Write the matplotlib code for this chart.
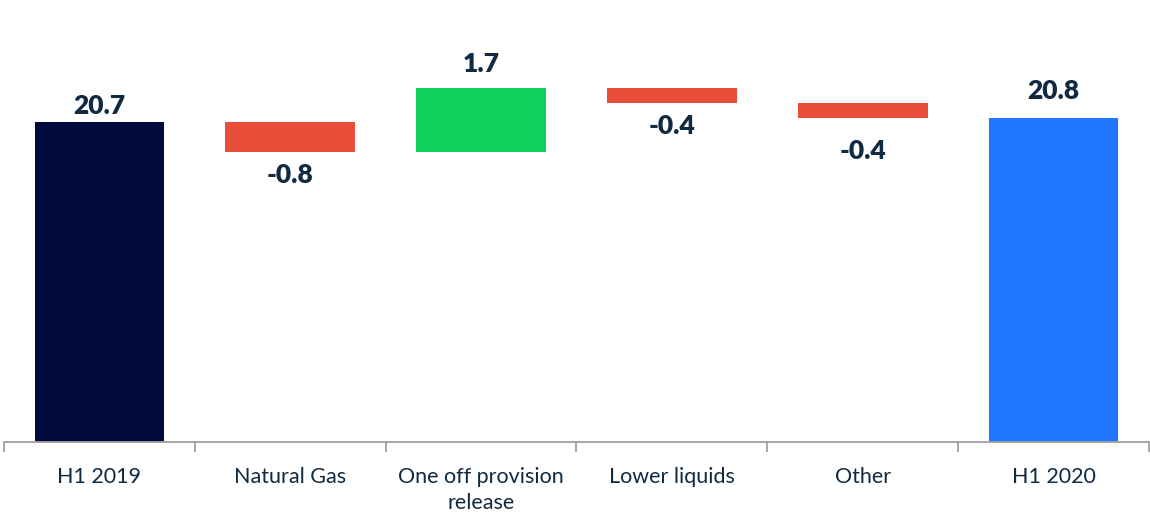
import matplotlib
matplotlib.use("Agg")
import matplotlib.pyplot as plt
import numpy as np

categories = ["H1 2019", "Natural Gas", "One off provision\nrelease", "Lower liquids", "Other", "H1 2020"]
start_value = 20.7
changes = [-0.8, 1.7, -0.4, -0.4]
end_value = 20.8
labels = ["20.7", "-0.8", "1.7", "-0.4", "-0.4", "20.8"]

c_start = "#000a3c"
c_neg = "#e84d3a"
c_pos = "#10cf5c"
c_end = "#1f78ff"
text_c = "#102a42"

# label distance from bar edge (points), as placed in the original
label_gap = [3, 8, 9, 8, 15, 11]

plt.rcParams['font.family'] = ['Lato', 'DejaVu Sans']

fig = plt.figure(figsize=(11.5, 5.14), dpi=100)
ax = fig.add_axes([4/1150, 1 - 442/514, 1145/1150, 442/514])

ymin = 12.12
x = np.arange(len(categories))
w = 0.68

bottoms, heights, colors = [], [], []
bottoms.append(ymin); heights.append(start_value - ymin); colors.append(c_start)
level = start_value
for ch in changes:
    new = level + ch
    bottoms.append(min(level, new)); heights.append(abs(ch))
    colors.append(c_pos if ch > 0 else c_neg)
    level = new
bottoms.append(ymin); heights.append(end_value - ymin); colors.append(c_end)

ax.bar(x, heights, bottom=bottoms, width=w, color=colors)

vals = [start_value] + changes + [end_value]
for i, (b, h, v, lab) in enumerate(zip(bottoms, heights, vals, labels)):
    if v >= 0:
        ax.annotate(lab, (x[i], b + h), xytext=(0, label_gap[i]), textcoords="offset points",
                    ha="center", va="bottom", fontsize=19, fontweight="heavy", color=text_c)
    else:
        ax.annotate(lab, (x[i], b), xytext=(0, -label_gap[i]), textcoords="offset points",
                    ha="center", va="top", fontsize=19, fontweight="heavy", color=text_c)

ax.set_xlim(-0.5, len(categories) - 0.5)
ax.set_ylim(ymin, 23.97)
for s in ["top", "right", "left"]:
    ax.spines[s].set_visible(False)
ax.spines["bottom"].set_color("#a0a0a0")
ax.spines["bottom"].set_linewidth(1.3)
ax.set_yticks([])
ax.set_xticks(x)
ax.set_xticklabels(categories, fontsize=15.5, color=text_c, linespacing=1.4)
ax.tick_params(axis="x", which="major", length=0, pad=18)
ax.set_xticks(np.arange(-0.5, len(categories)), minor=True)
ax.tick_params(axis="x", which="minor", length=7, width=1.3, color="#a0a0a0")

fig.savefig("out.png", dpi=100)
